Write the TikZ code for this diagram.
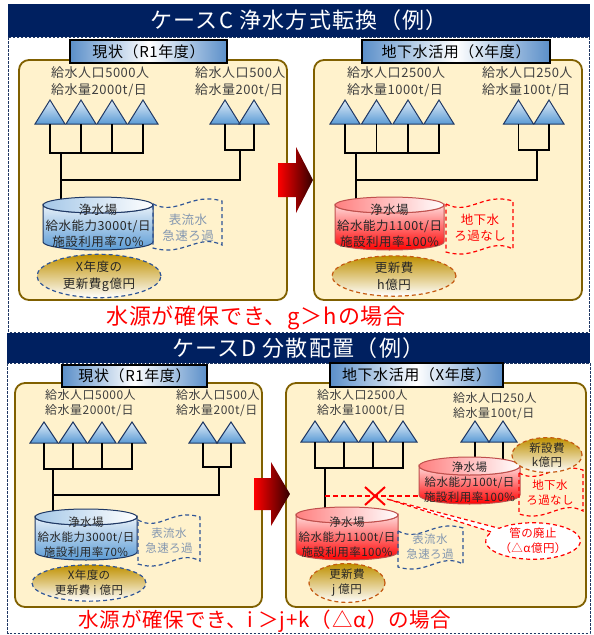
\documentclass[tikz,border=0pt]{standalone}
\usepackage{fontspec}
\setmainfont{Noto Sans CJK JP}[LetterSpace=4]
\newfontfamily\headfont{Noto Sans CJK JP}[LetterSpace=6]
\usepackage{tikz}
\usetikzlibrary{shapes.geometric,shapes.callouts}

\definecolor{navy}{HTML}{002060}
\definecolor{boxdash}{HTML}{203864}
\definecolor{panelfill}{HTML}{FFF2CC}
\definecolor{paneledge}{HTML}{806000}
\definecolor{tagblue}{HTML}{5B8FC9}
\definecolor{tapblue}{HTML}{5B9BD5}
\definecolor{tapedge}{HTML}{1F3864}
\definecolor{rededge}{HTML}{C0504D}
\definecolor{gold}{HTML}{BF9000}
\definecolor{costblue}{HTML}{2F5597}
\definecolor{costorange}{HTML}{C55A11}
\definecolor{greyblue}{HTML}{8497B0}
\definecolor{txtgrey}{HTML}{404040}

% tap triangle and its base point: name, x, base y, half width, height
\newcommand{\tapmark}[5]{%
  \draw[tap] (#2-#4,#3) -- (#2,#3-#5) -- (#2+#4,#3) -- cycle;
  \coordinate (#1) at (#2,#3);}
% cylinder: body style, lid style, cx, lid y, rx, ry, depth
\newcommand{\plantcyl}[7]{%
  \draw[#1] (#3-#5,#4) -- (#3-#5,#4+#7)
    arc[start angle=180,end angle=0,x radius=#5,y radius=#6]
    -- (#3+#5,#4) arc[start angle=0,end angle=180,x radius=#5,y radius=#6] -- cycle;
  \draw[#2] (#3,#4) ellipse[x radius=#5,y radius=#6];}
% wavy dashed box: style, x0, y0, x1, y1
\newcommand{\wavebox}[5]{%
  \draw[#1] (#2,#3+6) .. controls ({#2+0.35*(#4-#2)},#3+18) and ({#2+0.55*(#4-#2)},#3-6) .. (#4,#3+3)
    -- (#4,#5-6) .. controls ({#4-0.35*(#4-#2)},#5-18) and ({#4-0.55*(#4-#2)},#5+6) .. (#2,#5-3) -- cycle;}

\begin{document}
\begin{tikzpicture}[x=1pt,y=-1pt,
    every node/.style={inner sep=0pt},
    titlebar/.style={fill=navy,text=white,font=\headfont\fontsize{22}{22}\selectfont},
    frame/.style={draw=boxdash,line width=0.8pt,dash pattern=on 2.5pt off 1.5pt},
    panel/.style={draw=paneledge,fill=panelfill,line width=1.8pt,rounded corners=10pt},
    tag/.style={draw=black,line width=2pt,left color=tagblue,right color=tagblue,middle color=white,
      font=\fontsize{15}{15}\selectfont},
    tap/.style={draw=tapedge,line width=1pt,top color=tapblue!20!white,bottom color=tapblue},
    pipe/.style={line width=1.8pt},
    popC/.style={anchor=west,align=left,text=txtgrey,font=\fontsize{13}{17}\selectfont},
    popD/.style={anchor=west,align=left,text=txtgrey,font=\fontsize{12}{15}\selectfont},
    bluebody/.style={draw=tapedge,line width=1pt,top color=tapblue!15!white,bottom color=tapblue},
    bluelid/.style={draw=tapedge,line width=1pt,left color=tapblue!55!white,right color=white},
    redbody/.style={draw=rededge,line width=1pt,top color=red!15!white,bottom color=red},
    redlid/.style={draw=rededge,line width=1pt,left color=red!50!white,right color=white},
    plantC/.style={align=center,text=black!85,font=\fontsize{12.5}{16}\selectfont},
    plantD/.style={align=center,text=black!85,font=\fontsize{11.5}{15}\selectfont},
    bluewave/.style={draw=costblue,line width=1.2pt,dash pattern=on 4pt off 3pt},
    redwave/.style={draw=red,line width=1.2pt,dash pattern=on 4pt off 3pt},
    cost/.style={ellipse,top color=gold,bottom color=white,line width=1.2pt,
      dash pattern=on 4pt off 3pt,align=center,text=black!85},
    bigarrow/.style={left color=red,middle color=red!85!black,right color=red!20!black},
    verdict/.style={text=red,font=\fontsize{22}{22}\selectfont}]
  \useasboundingbox (0,0) rectangle (594,635);

  % ---------------- case C ----------------
  \draw[frame] (8.5,37) rectangle (589,332);
  \node[titlebar,minimum width=582pt,minimum height=33pt] (titleC) at (299,20.5) {ケースC 浄水方式転換（例）};
  \draw[panel] (19,60) rectangle (287,300);
  \draw[panel] (314,60) rectangle (582,300);
  \node[tag,minimum width=157pt,minimum height=23pt] (tagC1) at (148.5,51.5) {現状（R1年度）};
  \node[tag,minimum width=188pt,minimum height=23pt] (tagC2) at (456,51.5) {地下水活用（X年度）};
  \shade[bigarrow] (278,163) -- (296,163) -- (296,147) -- (313,180) -- (296,213) -- (296,197) -- (278,197) -- cycle;

  % present state
  \node[popC] (popC1) at (51,81.5) {給水人口5000人\\給水量2000t/日};
  \node[popC] (popC2) at (195,81.5) {給水人口500人\\給水量200t/日};
  \foreach \n/\x in {1/50,2/81,3/112,4/143,5/225,6/254} {\tapmark{cl\n}{\x}{124}{15}{24}}
  \coordinate (jC1) at (61,153);
  \coordinate (jC2) at (240,150);
  \coordinate (hC1) at (61,180);
  \coordinate (inC1) at (61,205);
  \draw[pipe] (cl1) |- (cl4 |- jC1) -- (cl4);
  \draw[pipe] (cl2) -- (cl2 |- jC1) (cl3) -- (cl3 |- jC1);
  \draw[pipe] (cl5) |- (cl6 |- jC2) -- (cl6);
  \draw[pipe] (jC1) -- (inC1) (hC1) -| (jC2);
  \plantcyl{bluebody}{bluelid}{98}{205}{55}{8}{37}
  \node[plantC] (plantC1) at (98,226) {浄水場\\給水能力3000t/日\\施設利用率70\%};
  \wavebox{bluewave}{153}{198}{222}{251}
  \node[plantC,text=greyblue] (srcC1) at (188,227.5) {表流水\\急速ろ過};
  \node[cost,draw=costblue,minimum width=124pt,minimum height=38pt,font=\fontsize{12.5}{17}\selectfont]
    (costC1) at (99,276) {X年度の\\更新費g億円};

  % groundwater
  \node[popC] (popC3) at (347,81.5) {給水人口2500人\\給水量1000t/日};
  \node[popC] (popC4) at (482,81.5) {給水人口250人\\給水量100t/日};
  \foreach \n/\x in {1/345,2/376.5,3/408,4/439,5/518.5,6/549} {\tapmark{cr\n}{\x}{124}{15}{24}}
  \coordinate (jC3) at (356,153);
  \coordinate (jC4) at (537,150);
  \coordinate (hC3) at (356,180);
  \coordinate (inC3) at (356,205);
  \draw[pipe] (cr1) |- (cr4 |- jC3) -- (cr4);
  \draw[pipe] (cr2) -- (cr2 |- jC3) (cr3) -- (cr3 |- jC3);
  \draw[pipe] (cr5) |- (cr6 |- jC4) -- (cr6);
  \draw[pipe] (jC3) -- (inC3) (hC3) -| (jC4);
  \plantcyl{redbody}{redlid}{389.5}{205}{54.5}{8}{37}
  \node[plantC] (plantC2) at (389.5,226) {浄水場\\給水能力1100t/日\\施設利用率100\%};
  \wavebox{redwave}{446}{198}{513}{255}
  \node[plantC,text=red] (srcC2) at (480,228) {地下水\\ろ過なし};
  \node[cost,draw=costorange,minimum width=124pt,minimum height=38pt,font=\fontsize{12.5}{17}\selectfont]
    (costC2) at (394,276) {更新費\\h億円};

  \node[verdict] (verdictC) at (256,318) {水源が確保でき、g＞hの場合};

  % ---------------- case D ----------------
  \draw[frame] (7.5,363) rectangle (590,633);
  \node[titlebar,minimum width=583pt,minimum height=30pt] (titleD) at (298.5,348) {ケースD 分散配置（例）};
  \draw[panel] (15,383) rectangle (262,607);
  \draw[panel] (286,383) rectangle (586,607);
  \node[tag,minimum width=145pt,minimum height=22pt] (tagD1) at (134.5,376) {現状（R1年度）};
  \node[tag,minimum width=173pt,minimum height=24pt] (tagD2) at (416.5,375) {地下水活用（X年度）};
  \shade[bigarrow] (254,478) -- (271,478) -- (271,462) -- (290,494) -- (271,526) -- (271,510) -- (254,510) -- cycle;

  % present state
  \node[popD] (popD1) at (45,403.5) {給水人口5000人\\給水量2000t/日};
  \node[popD] (popD2) at (176,403.5) {給水人口500人\\給水量200t/日};
  \foreach \n/\x in {1/44,2/73,3/102,4/132,5/203,6/231} {\tapmark{dl\n}{\x}{443}{14}{21}}
  \coordinate (jD1) at (53,469);
  \coordinate (jD2) at (219,467);
  \coordinate (hD1) at (53,495);
  \coordinate (inD1) at (53,517);
  \draw[pipe] (dl1) |- (dl4 |- jD1) -- (dl4);
  \draw[pipe] (dl2) -- (dl2 |- jD1) (dl3) -- (dl3 |- jD1);
  \draw[pipe] (dl5) |- (dl6 |- jD2) -- (dl6);
  \draw[pipe] (jD1) -- (inD1) (hD1) -| (jD2);
  \plantcyl{bluebody}{bluelid}{86}{517}{51}{8}{35}
  \node[plantD] (plantD1) at (86,537) {浄水場\\給水能力3000t/日\\施設利用率70\%};
  \wavebox{bluewave}{138}{514}{200}{567}
  \node[plantD,text=greyblue] (srcD1) at (169,541) {表流水\\急速ろ過};
  \node[cost,draw=costblue,minimum width=114pt,minimum height=32pt,font=\fontsize{11.5}{15}\selectfont]
    (costD1) at (89,583) {X年度の\\更新費 i 億円};

  % dispersed plants
  \node[popD] (popD3) at (317,403.5) {給水人口2500人\\給水量1000t/日};
  \node[popD] (popD4) at (453,406.5) {給水人口250人\\給水量100t/日};
  \foreach \n/\x in {1/315,2/344,3/373,4/403,5/475,6/503} {\tapmark{dr\n}{\x}{442}{14}{21}}
  \coordinate (jD3) at (325,468);
  \coordinate (inD3) at (325,515);
  \coordinate (cut) at (375,496);
  \draw[pipe] (dr1) |- (dr4 |- jD3) -- (dr4);
  \draw[pipe] (dr2) -- (dr2 |- jD3) (dr3) -- (dr3 |- jD3);
  \draw[pipe] (jD3) -- (inD3);
  \draw[pipe] (dr5) -- ++(0,24) (dr6) -- ++(0,24);
  \plantcyl{redbody}{redlid}{469.5}{466}{50.5}{9}{29}
  \node[plantD] (plantD3) at (469.5,482) {浄水場\\給水能力100t/日\\施設利用率100\%};
  \draw[red,line width=1.8pt,dash pattern=on 5pt off 3pt] (jD3 |- cut) -- (419,496);
  \draw[red,line width=2pt] (cut) ++(-10,-9) -- ++(20,18) (cut) ++(-10,9) -- ++(20,-18);
  \wavebox{redwave}{519}{467}{583}{517}
  \node[plantD,text=red] (srcD3) at (550,493) {地下水\\ろ過なし};
  \node[cost,draw=costorange,minimum width=70pt,minimum height=33pt,font=\fontsize{11.5}{14}\selectfont]
    (costD3) at (547,455) {新設費\\k億円};
  \node[ellipse callout,draw=red,fill=white,line width=1.2pt,dash pattern=on 4pt off 3pt,
    callout absolute pointer={(387,499)},minimum width=84pt,minimum height=32pt,
    align=center,text=red,font=\fontsize{11.5}{15}\selectfont] (abolish) at (533,541) {管の廃止\\（△α億円）};
  \plantcyl{redbody}{redlid}{347}{515}{51}{8}{37}
  \node[plantD] (plantD2) at (347,537) {浄水場\\給水能力1100t/日\\施設利用率100\%};
  \wavebox{bluewave}{398}{525}{463}{570}
  \node[plantD,text=greyblue] (srcD2) at (430,547) {表流水\\急速ろ過};
  \node[cost,draw=costorange,minimum width=76pt,minimum height=35pt,font=\fontsize{11.5}{15}\selectfont]
    (costD2) at (347,583) {更新費\\j 億円};

  \node[verdict,font=\fontsize{20.5}{20.5}\selectfont] (verdictD) at (265,621) {水源が確保でき、i ＞j+k（△α）の場合};
\end{tikzpicture}
\end{document}
